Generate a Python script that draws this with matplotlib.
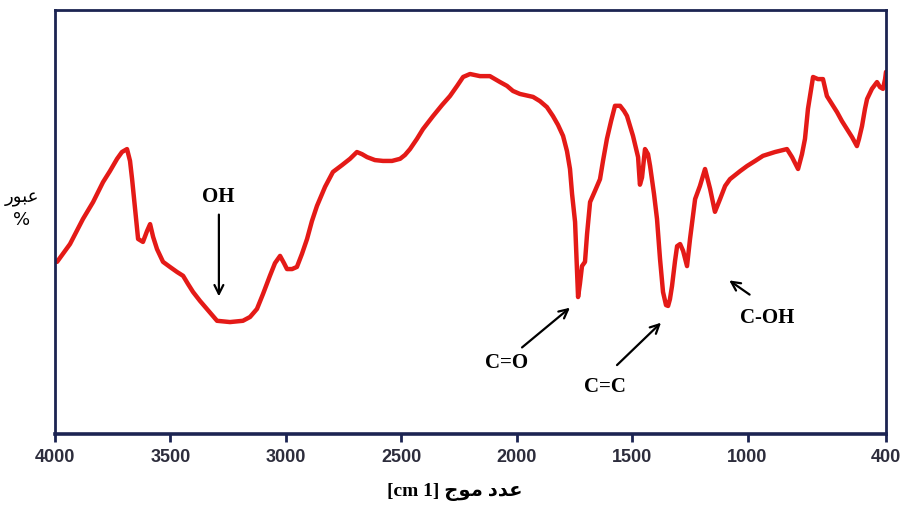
import matplotlib
matplotlib.use("Agg")
import matplotlib.pyplot as plt

# FTIR spectrum: wavenumber (cm-1) and transmittance (%)
wavenumber = [3991, 3935, 3879, 3835, 3792, 3762, 3731, 3710, 3688, 3675,
              3666, 3653, 3640, 3619, 3601, 3588, 3575, 3558, 3532, 3502,
              3471, 3445, 3424, 3402, 3372, 3342, 3320, 3298, 3242, 3186,
              3155, 3125, 3099, 3069, 3047, 3025, 3008, 2995, 2973, 2952,
              2930, 2908, 2887, 2865, 2830, 2796, 2757, 2722, 2692, 2670,
              2648, 2614, 2579, 2540, 2505, 2484, 2462, 2432, 2406, 2362,
              2323, 2289, 2258, 2232, 2202, 2159, 2116, 2072, 2042, 2016,
              1986, 1929, 1899, 1869, 1843, 1821, 1799, 1782, 1769, 1760,
              1747, 1739, 1734, 1726, 1717, 1704, 1695, 1682, 1661, 1639,
              1626, 1609, 1591, 1574, 1552, 1535, 1522, 1496, 1474, 1466,
              1457, 1444, 1431, 1422, 1405, 1392, 1379, 1366, 1353, 1344,
              1336, 1327, 1314, 1305, 1292, 1279, 1262, 1249, 1227, 1206,
              1184, 1162, 1141, 1119, 1097, 1076, 1032, 1002, 967, 933,
              881, 829, 807, 781, 764, 751, 738, 716, 695, 673,
              656, 634, 612, 591, 569, 547, 526, 517, 504, 491,
              482, 461, 439, 426, 413, 404, 400]
transmittance = [40.6, 44.8, 50.7, 54.7, 59.4, 62.0, 64.9, 66.5, 67.2, 64.4,
                 60.1, 53.1, 46.0, 45.3, 47.9, 49.5, 46.5, 43.6, 40.6, 39.4,
                 38.2, 37.3, 35.4, 33.5, 31.4, 29.5, 28.1, 26.7, 26.4, 26.7,
                 27.6, 29.5, 33.0, 37.3, 40.3, 42.0, 40.3, 38.9, 38.9, 39.4,
                 42.5, 46.0, 50.2, 53.8, 58.3, 61.8, 63.4, 64.9, 66.5, 66.0,
                 65.3, 64.6, 64.4, 64.4, 64.9, 65.8, 67.2, 69.6, 71.9, 75.0,
                 77.6, 79.7, 82.1, 84.2, 84.9, 84.4, 84.4, 83.0, 82.1, 80.9,
                 80.2, 79.5, 78.5, 77.1, 75.0, 72.9, 70.3, 66.7, 62.5, 56.6,
                 50.0, 38.9, 32.3, 35.4, 39.6, 40.6, 47.2, 54.7, 57.3, 60.1,
                 64.4, 69.6, 73.8, 77.4, 77.4, 76.2, 75.0, 70.3, 65.3, 58.8,
                 60.5, 67.2, 66.0, 63.2, 56.6, 50.7, 41.3, 33.5, 30.4, 30.2,
                 31.8, 34.9, 40.8, 44.3, 44.8, 43.2, 39.6, 46.0, 55.4, 58.5,
                 62.5, 57.8, 52.4, 55.4, 58.5, 60.1, 62.0, 63.2, 64.4, 65.6,
                 66.5, 67.2, 65.3, 62.5, 66.0, 69.6, 76.7, 84.2, 83.7, 83.7,
                 79.7, 77.8, 75.9, 73.8, 71.9, 70.0, 67.9, 69.6, 72.6, 76.7,
                 79.0, 81.4, 83.0, 81.8, 81.4, 83.7, 85.4]

xticks = [4000, 3500, 3000, 2500, 2000, 1500, 1000, 400]

# band labels: (text, text position, arrow tail, arrow head)
bands = [
    ("OH", (3294, 56.1), (3290, 52.4), (3290, 31.8)),
    ("C=O", (2042, 17.0), (1986, 20.0), (1760, 30.2)),
    ("C=C", (1617, 11.3), (1574, 15.8), (1366, 26.7)),
    ("C-OH", (916, 27.6), (981, 32.5), (1089, 36.6)),
]

# Arabic labels written in presentation forms, left-to-right visual order
ylabel = "\uFEAD\uFEEE\uFE92\uFECB\n%"            # عبور %
xlabel = "[cm 1] \uFE9D\uFEEE\uFEE3 \uFEA9\uFEAA\uFECB"  # عدد موج [cm 1]

navy = "#1c2452"

fig = plt.figure(figsize=(9.09, 5.06), dpi=100)
ax = fig.add_axes([0.0605, 0.1403, 0.9142, 0.838])

ax.plot(wavenumber, transmittance, color="#e41a17", lw=3.2,
        solid_joinstyle="round", solid_capstyle="round")

ax.set_xlim(4000, 400)
ax.set_ylim(0, 100)
ax.set_xticks(xticks)
ax.set_xticklabels([str(t) for t in xticks], fontfamily="Liberation Sans",
                   fontweight="bold", fontsize=13, color="#2d2d3c")
ax.set_yticks([])
ax.tick_params(axis="x", direction="out", length=6, width=2, color=navy, pad=4)

for side in ["left", "right", "top"]:
    ax.spines[side].set_color(navy)
    ax.spines[side].set_linewidth(2)
ax.spines["bottom"].set_color(navy)
ax.spines["bottom"].set_linewidth(2.6)

for label, txt, tail, head in bands:
    ax.text(txt[0], txt[1], label, ha="center", va="center",
            fontfamily="Liberation Serif", fontweight="bold", fontsize=15)
    ax.annotate("", xy=head, xytext=tail,
                arrowprops=dict(arrowstyle="->", color="black", lw=1.6,
                                mutation_scale=16))

fig.text(22 / 909, 1 - 209 / 506, ylabel, ha="center", va="center",
         fontfamily="DejaVu Sans", fontsize=13, linespacing=1.35)
fig.text(0.5, 1 - 492 / 506, xlabel, ha="center", va="center",
         family=["Liberation Serif", "DejaVu Sans"], fontweight="bold",
         fontsize=14)

fig.savefig("out.png", dpi=100)
